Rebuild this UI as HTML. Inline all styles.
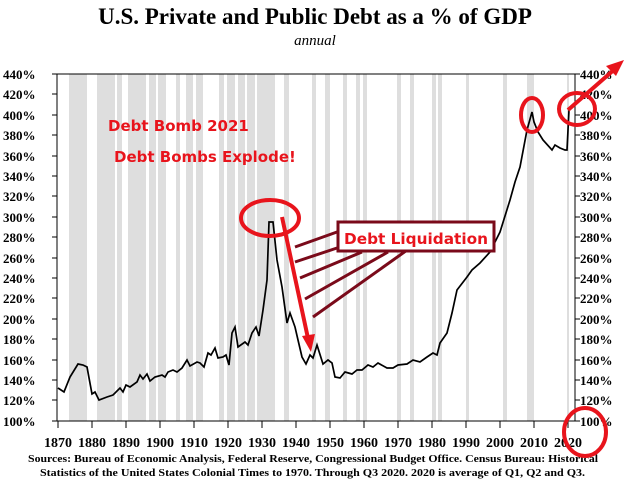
<!DOCTYPE html>
<html><head><meta charset="utf-8"><style>body{margin:0;background:#fff}svg{display:block}</style></head><body>
<svg width="630" height="482" viewBox="0 0 630 482" xmlns="http://www.w3.org/2000/svg">
<text x="315" y="24" text-anchor="middle" font-family="Liberation Serif" font-weight="bold" font-size="23">U.S. Private and Public Debt as a % of GDP</text>
<text x="315" y="45" text-anchor="middle" font-family="Liberation Serif" font-style="italic" font-size="15">annual</text>
<g fill="#dedede">
<rect x="69" y="74" width="18" height="347"/><rect x="97" y="74" width="18" height="347"/><rect x="117" y="74" width="5" height="347"/><rect x="128" y="74" width="18" height="347"/><rect x="149" y="74" width="7" height="347"/><rect x="158" y="74" width="8" height="347"/><rect x="176" y="74" width="4" height="347"/><rect x="186" y="74" width="7" height="347"/><rect x="196" y="74" width="7" height="347"/><rect x="219" y="74" width="5" height="347"/><rect x="227" y="74" width="8" height="347"/><rect x="238" y="74" width="7" height="347"/><rect x="247" y="74" width="8" height="347"/><rect x="257" y="74" width="18" height="347"/><rect x="284" y="74" width="5" height="347"/><rect x="312" y="74" width="4" height="347"/><rect x="325" y="74" width="5" height="347"/><rect x="343" y="74" width="4" height="347"/><rect x="356" y="74" width="4" height="347"/><rect x="363" y="74" width="4" height="347"/><rect x="397" y="74" width="4" height="347"/><rect x="410" y="74" width="4" height="347"/><rect x="432" y="74" width="4" height="347"/><rect x="438" y="74" width="4" height="347"/><rect x="466" y="74" width="3" height="347"/><rect x="503" y="74" width="4" height="347"/><rect x="527" y="74" width="7" height="347"/><rect x="567" y="74" width="2" height="347"/>
</g>
<g stroke="#000" stroke-width="1" fill="none">
<path d="M57 74H575M57 74V421H575V74"/>
</g>
<g font-family="Liberation Serif" font-weight="bold" font-size="13" fill="#000">
<text x="3" y="79">440%</text><text x="3" y="99">420%</text><text x="3" y="120">400%</text><text x="3" y="140">380%</text><text x="3" y="161">360%</text><text x="3" y="181">340%</text><text x="3" y="201">320%</text><text x="3" y="222">300%</text><text x="3" y="242">280%</text><text x="3" y="263">260%</text><text x="3" y="283">240%</text><text x="3" y="303">220%</text><text x="3" y="324">200%</text><text x="3" y="344">180%</text><text x="3" y="365">160%</text><text x="3" y="385">140%</text><text x="3" y="405">120%</text><text x="3" y="426">100%</text>
<text x="580" y="79">440%</text><text x="580" y="99">420%</text><text x="580" y="120">400%</text><text x="580" y="140">380%</text><text x="580" y="161">360%</text><text x="580" y="181">340%</text><text x="580" y="201">320%</text><text x="580" y="222">300%</text><text x="580" y="242">280%</text><text x="580" y="263">260%</text><text x="580" y="283">240%</text><text x="580" y="303">220%</text><text x="580" y="324">200%</text><text x="580" y="344">180%</text><text x="580" y="365">160%</text><text x="580" y="385">140%</text><text x="580" y="405">120%</text><text x="580" y="426">100%</text>
</g>
<g stroke="#000" stroke-width="1">
<path d="M52 74h5M52 94h5M52 115h5M52 135h5M52 156h5M52 176h5M52 196h5M52 217h5M52 237h5M52 258h5M52 278h5M52 298h5M52 319h5M52 339h5M52 360h5M52 380h5M52 400h5M52 421h5"/>
<path d="M575 74h5M575 94h5M575 115h5M575 135h5M575 156h5M575 176h5M575 196h5M575 217h5M575 237h5M575 258h5M575 278h5M575 298h5M575 319h5M575 339h5M575 360h5M575 380h5M575 400h5M575 421h5"/>
<path d="M58 421v7M92 421v7M126 421v7M160 421v7M194 421v7M228 421v7M262 421v7M296 421v7M330 421v7M364 421v7M398 421v7M432 421v7M466 421v7M500 421v7M534 421v7M568 421v7"/>
</g>
<g font-family="Liberation Serif" font-weight="bold" font-size="14" text-anchor="middle">
<text x="58" y="447">1870</text><text x="92" y="447">1880</text><text x="126" y="447">1890</text><text x="160" y="447">1900</text><text x="194" y="447">1910</text><text x="228" y="447">1920</text><text x="262" y="447">1930</text><text x="296" y="447">1940</text><text x="330" y="447">1950</text><text x="364" y="447">1960</text><text x="398" y="447">1970</text><text x="432" y="447">1980</text><text x="466" y="447">1990</text><text x="500" y="447">2000</text><text x="534" y="447">2010</text><text x="568" y="447">2020</text>
</g>
<text x="28" y="462" font-family="Liberation Serif" font-weight="bold" font-size="11" textLength="570" lengthAdjust="spacingAndGlyphs">Sources: Bureau of Economic Analysis, Federal Reserve, Congressional Budget Office. Census Bureau: Historical</text>
<text x="40" y="476" font-family="Liberation Serif" font-weight="bold" font-size="11" textLength="545" lengthAdjust="spacingAndGlyphs">Statistics of the United States Colonial Times to 1970.  Through Q3 2020. 2020 is average of Q1, Q2 and Q3.</text>
<polyline fill="none" stroke="#000" stroke-width="1.7" points="58,388 64,392 70,377 78,364 83,365 87,367 92,394 95,392 99,400 107,397 113,395 120,388 123,392 126,385 130,387 137,382 140,375 143,379 147,374 150,381 155,377 162,375 165,377 168,372 173,370 177,372 182,368 187,360 190,366 197,362 200,363 204,367 208,353 211,355 215,348 218,358 223,357 226,355 229,365 232,333 235,327 238,347 245,342 248,345 252,333 256,327 259,336 263,310 267,280 269,222 273,222 277,260 282,287 287,323 290,313 295,327 298,340 302,357 306,364 310,355 313,358 317,345 323,364 328,360 332,363 335,377 340,378 345,372 352,374 357,370 362,370 368,365 373,367 378,363 387,368 393,368 398,365 407,364 413,360 420,362 427,357 433,353 437,355 440,343 447,333 452,313 457,290 467,277 472,270 480,263 490,252 500,232 510,200 515,182 520,167 527,130 532,112 534,122 538,132 543,140 552,150 555,145 560,148 565,150 567,150 569,110"/>
<g font-family="DejaVu Sans" font-weight="bold" font-size="15" fill="#e8141c">
<text x="108" y="131">Debt Bomb 2021</text>
<text x="114" y="162">Debt Bombs Explode!</text>
</g>
<g stroke="#7a0a1a" stroke-width="3" fill="none">
<path d="M295 247L337 232M295 262L337 248M300 278L362 252M305 299L388 252M313 317L410 248"/>
</g>
<rect x="338" y="222" width="156" height="29" fill="#fff" stroke="#7a0a1a" stroke-width="3"/>
<text x="344" y="244" font-family="DejaVu Sans" font-weight="bold" font-size="15" fill="#e8141c" textLength="144" lengthAdjust="spacingAndGlyphs">Debt Liquidation</text>
<g stroke="#e8141c" stroke-width="4" fill="none">
<ellipse cx="270" cy="218" rx="29" ry="18"/>
<ellipse cx="532" cy="115" rx="11" ry="17"/>
<ellipse cx="577" cy="109" rx="18" ry="16"/>
<ellipse cx="585" cy="432" rx="21" ry="24"/>
<path d="M282 217L309 343M568 110L616 68"/>
</g>
<g fill="#e8141c"><path d="M311 352L302 336L315 334Z"/><path d="M624 60L606 66L616 76Z"/></g>
</svg>
</body></html>
